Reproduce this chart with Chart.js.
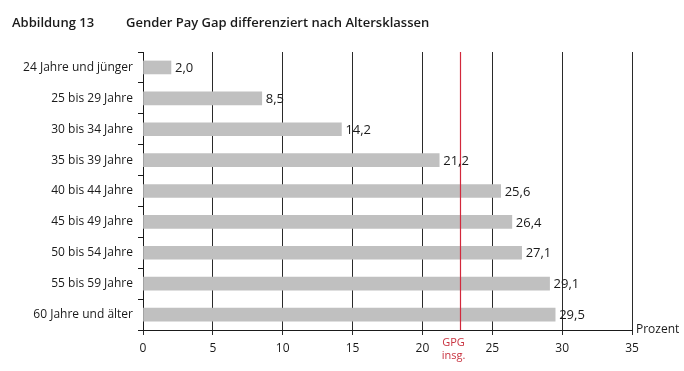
<!DOCTYPE html>
<html>
<head>
<meta charset="utf-8">
<script src="https://cdn.jsdelivr.net/npm/chart.js@4/dist/chart.umd.min.js"></script>
<style>
  html, body { margin: 0; padding: 0; background: #fff; }
  #wrap { width: 684px; height: 371px; position: relative; }
</style>
</head>
<body>
<div id="wrap"><canvas id="chart"></canvas></div>
<script>
const categories = ['24 Jahre und jünger', '25 bis 29 Jahre', '30 bis 34 Jahre', '35 bis 39 Jahre',
  '40 bis 44 Jahre', '45 bis 49 Jahre', '50 bis 54 Jahre', '55 bis 59 Jahre', '60 Jahre und älter'];
const gapValues = [2.0, 8.5, 14.2, 21.2, 25.6, 26.4, 27.1, 29.1, 29.5];
const gpgTotal = 22.7;
const xTicks = [0, 5, 10, 15, 20, 25, 30, 35];

const FONT = '"Open Sans", "Noto Sans", sans-serif';
const TEXT = '#1a1a1a';

const fmt = v => v.toFixed(1).replace('.', ',');

const extras = {
  id: 'extras',
  afterDatasetsDraw(chart) {
    const ctx = chart.ctx;
    const x = chart.scales.x;
    const area = chart.chartArea;
    // GPG line
    const gx = Math.round(x.getPixelForValue(gpgTotal)) + 0.5;
    ctx.save();
    ctx.strokeStyle = '#d2283c';
    ctx.lineWidth = 1.2;
    ctx.beginPath();
    ctx.moveTo(gx, area.top);
    ctx.lineTo(gx, area.bottom);
    ctx.stroke();
    ctx.fillStyle = '#c8323f';
    ctx.font = '11px ' + FONT;
    ctx.textAlign = 'center';
    ctx.textBaseline = 'middle';
    ctx.fillText('GPG', gx - 7, area.bottom + 13);
    ctx.fillText('insg.', gx - 7, area.bottom + 26);

    // value labels
    ctx.fillStyle = TEXT;
    ctx.font = '13px ' + FONT;
    ctx.textAlign = 'left';
    const meta = chart.getDatasetMeta(0);
    meta.data.forEach((bar, i) => {
      ctx.fillText(fmt(gapValues[i]), bar.x + 4, bar.y + 1);
    });

    // axis unit
    ctx.font = '12px ' + FONT;
    ctx.fillText('Prozent', area.right + 4, area.bottom);

    // title
    ctx.font = '600 13px ' + FONT;
    ctx.fillText('Abbildung 13', 12, 23);
    ctx.fillText('Gender Pay Gap differenziert nach Altersklassen', 126, 23);
    ctx.restore();
  }
};

new Chart(document.getElementById('chart'), {
  type: 'bar',
  data: {
    labels: categories,
    datasets: [{
      data: gapValues,
      backgroundColor: '#c0c0c0',
      borderWidth: 0,
      barThickness: 13
    }]
  },
  options: {
    indexAxis: 'y',
    responsive: true,
    maintainAspectRatio: false,
    animation: false,
    layout: { padding: { top: 52, right: 52, left: 0, bottom: 0 } },
    plugins: { legend: { display: false }, tooltip: { enabled: false } },
    scales: {
      x: {
        min: 0,
        max: 35,
        afterBuildTicks: axis => { axis.ticks = xTicks.map(v => ({ value: v })); },
        afterFit: axis => { axis.height = 41; },
        grid: { color: '#2a2a2a', lineWidth: 1, tickLength: 5, drawOnChartArea: true },
        border: { color: '#1a1a1a', width: 1 },
        ticks: { color: TEXT, font: { family: FONT, size: 12 }, padding: 6 }
      },
      y: {
        afterFit: axis => { axis.width = 143; },
        grid: { offset: true, drawOnChartArea: false, tickLength: 5, color: '#1a1a1a' },
        border: { color: '#1a1a1a', width: 1 },
        ticks: { color: TEXT, font: { family: FONT, size: 12 }, padding: 5 }
      }
    }
  },
  plugins: [extras]
});
</script>
</body>
</html>
